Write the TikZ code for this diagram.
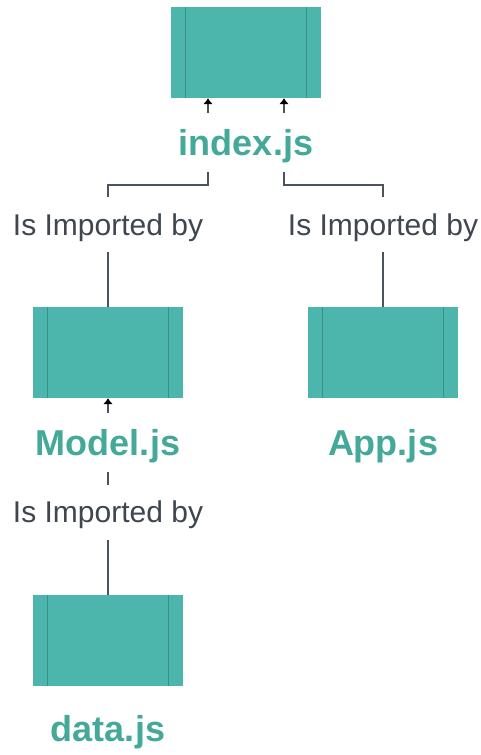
\documentclass[tikz,border=0pt]{standalone}
\usepackage{fontspec}
\setmainfont{Liberation Sans}
\usepackage{tikz}
\usetikzlibrary{arrows.meta,positioning,backgrounds}
\definecolor{ModTeal}{HTML}{4DB6AC}
\definecolor{ModRule}{HTML}{3A8F86}
\definecolor{ModName}{HTML}{45A99A}
\definecolor{ModInk}{HTML}{3F4650}
\definecolor{ModLine}{HTML}{4B5360}
\tikzset{
  modbox/.style={fill=ModTeal, minimum width=150pt, minimum height=91pt, inner sep=0pt},
  modrule/.style={draw=ModRule, line width=0.9pt},
  modname/.style={font=\bfseries\fontsize{36}{41}\selectfont, text=ModName, fill=white, minimum height=59pt, inner sep=1pt, text depth=0pt},
  implabel/.style={font=\fontsize{30}{35}\selectfont, text=ModInk, fill=white, minimum height=55pt, inner sep=1pt, text depth=0pt},
  imparrow/.style={-{Latex[length=6pt,width=10pt,color=black]}, line width=2.2pt, draw=ModLine}
}
\begin{document}
\begin{tikzpicture}[x=1pt, y=-1pt]
\useasboundingbox (0,0) rectangle (481,755);
% modules
\node[modbox] (index) at (246,52.5) {};
\node[modbox] (model) at (108,352.5) {};
\node[modbox] (app) at (383,352.5) {};
\node[modbox] (data) at (108,640.5) {};
\foreach \b in {index,model,app,data}{
  \draw[modrule] ([xshift=15pt]\b.north west) -- ([xshift=15pt]\b.south west);
  \draw[modrule] ([xshift=-15pt]\b.north east) -- ([xshift=-15pt]\b.south east);
}
% file names
\node[modname] (indexname) at (246,142.5) {index.js};
\node[modname] (modelname) at (108,442.5) {Model.js};
\node[modname] (appname) at (383,442.5) {App.js};
\node[modname] (dataname) at (108,728) {data.js};
% relation labels
\node[implabel] (imp1) at (108,224.5) {Is Imported by};
\node[implabel] (imp2) at (383,224.5) {Is Imported by};
\node[implabel] (imp3) at (108,512) {Is Imported by};
\coordinate (bendL) at (208,185);
\coordinate (bendR) at (284,185);
\begin{scope}[on background layer]
\draw[imparrow] (model.north) -- (model.north |- bendL) -- (bendL) -- (bendL |- index.south);
\draw[imparrow] (app.north) -- (app.north |- bendR) -- (bendR) -- (bendR |- index.south);
\draw[imparrow] (data.north) -- (model.south);
\end{scope}
\end{tikzpicture}
\end{document}
